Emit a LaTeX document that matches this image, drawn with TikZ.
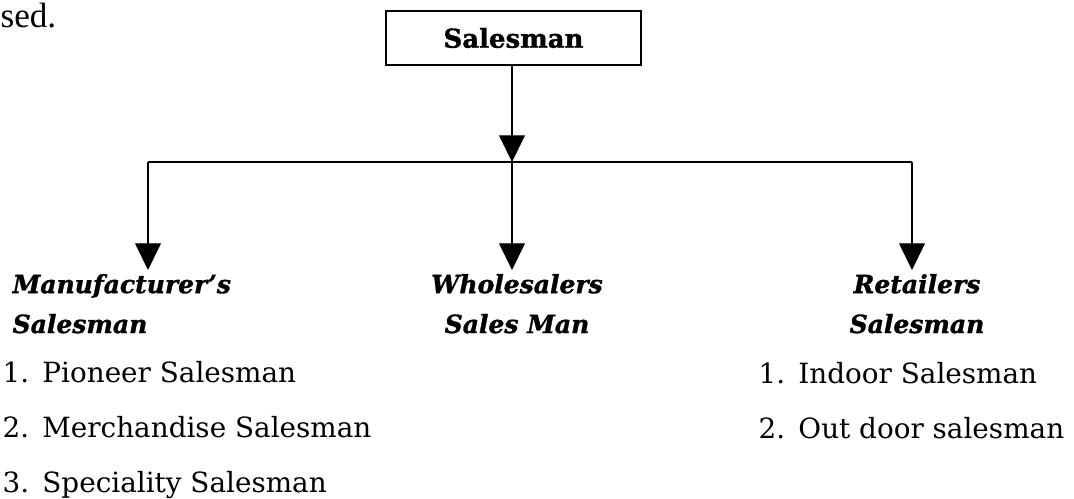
\documentclass[tikz,border=0pt]{standalone}
\usepackage{fontspec}
\setmainfont{DejaVu Serif}
\newfontfamily\bodyfont{Liberation Serif}
\newfontfamily\headfont{DejaVu Serif}[Ligatures=TeX, BoldItalicFeatures={FakeBold=1.2}, BoldFeatures={FakeBold=1.2}]
\usetikzlibrary{arrows.meta}

% number and text of one list line
\newcommand{\numitem}[2]{\makebox[28.3pt][l]{#1}#2}

\begin{document}
\begin{tikzpicture}[x=0.025cm, y=-0.025cm,
	head/.style={font=\fontsize{17.8}{28.35}\selectfont\headfont\bfseries\itshape, inner sep=0pt},
	items/.style={font=\fontsize{19.8}{38.8}\selectfont, inner sep=0pt, align=left, anchor=base west},
	tip/.style={-{Triangle[length=19pt, width=18.4pt]}, line width=0.9pt}]
		\useasboundingbox (0,0) rectangle (1074,499);
		\draw[color=black, line width=0.9pt]
		node[font=\fontsize{25}{30}\selectfont\bodyfont, anchor=base west, inner sep=0pt] (prev) at (0,28){sed.}
		node[draw, minimum width=6.375cm, minimum height=1.35cm, font=\fontsize{18.5}{22}\selectfont\headfont\bfseries] (root) at (513.5,38){Salesman}
		node[head, align=left, anchor=base west] (maker) at (12,333){Manufacturer’s\\Salesman}
		node[head, align=center, anchor=base] (whole) at (517,333){Wholesalers\\Sales Man}
		node[head, align=center, anchor=base] (retail) at (917,333){Retailers\\Salesman}
		node[items] (makerlist) at (2,492){\numitem{1.}{Pioneer Salesman}\\\numitem{2.}{Merchandise Salesman}\\\numitem{3.}{Speciality Salesman}}
		node[items] (retaillist) at (758,438){\numitem{1.}{Indoor Salesman}\\\numitem{2.}{Out door salesman}};
		\coordinate (barL) at (148,162);
		\coordinate (barM) at (512,162);
		\coordinate (barR) at (912,162);
		\coordinate (tipL) at (148,270);
		\coordinate (tipM) at (512,270);
		\coordinate (tipR) at (912,270);
		\draw[line width=0.9pt] (barL) -- (barR);
		\draw[tip] (root.south -| barM) -- (barM);
		\draw[tip] (barL) -- (tipL);
		\draw[tip] (barM) -- (tipM);
		\draw[tip] (barR) -- (tipR);
\end{tikzpicture}
\end{document}
